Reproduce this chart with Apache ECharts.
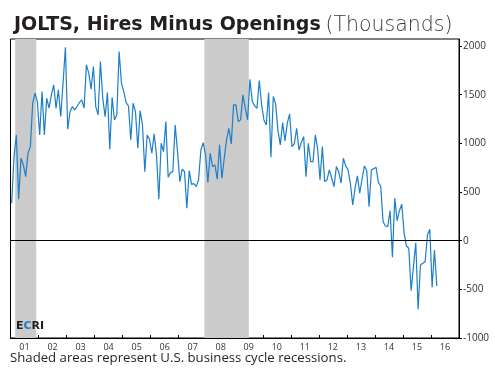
<!DOCTYPE html>
<html>
<head>
<meta charset="utf-8">
<script src="https://cdn.jsdelivr.net/npm/echarts@6/dist/echarts.min.js"></script>
<style>
  html, body { margin: 0; padding: 0; background: #fff; }
  #chart { width: 495px; height: 375px; }
</style>
</head>
<body>
<div id="chart"></div>
<script>
'use strict';

// monthly JOLTS hires minus openings, thousands, Jan 2001 .. Mar 2016
var startYear = 2001;
var hiresMinusOpenings = [
    384, 864, 1086, 426, 847, 778, 658, 898, 966, 1412, 1515, 1429,
    1086, 1532, 1086, 1464, 1361, 1498, 1601, 1361, 1549, 1275, 1618, 1988,
    1145, 1326, 1378, 1344, 1378, 1419, 1446, 1361, 1806, 1721, 1556, 1789,
    1378, 1292, 1840, 1460, 1275, 1522, 940, 1474, 1241, 1292, 1943, 1618,
    1532, 1419, 1385, 1035, 1412, 1326, 950, 1336, 1189, 709, 1086, 1042,
    898, 1097, 881, 426, 1001, 915, 1223, 652, 699, 709, 1189, 915,
    607, 734, 709, 333, 720, 578, 586, 555, 624, 932, 1007, 881,
    597, 898, 761, 778, 631, 984, 641, 847, 1035, 1155, 994, 1395,
    1395, 1223, 1241, 1498, 1361, 1241, 1659, 1429, 1385, 1361, 1645, 1395,
    1241, 1189, 1522, 857, 1481, 1405, 1131, 984, 1213, 1025, 1207, 1302,
    966, 994, 1155, 932, 1007, 1069, 658, 1001, 812, 812, 1086, 940,
    624, 966, 607, 624, 727, 641, 555, 761, 709, 590, 847, 768,
    727, 590, 367, 539, 665, 487, 631, 768, 720, 350, 727, 740,
    754, 597, 562, 195, 151, 144, 308, -171, 436, 206, 308, 374,
    76, -55, -78, -514, -267, -21, -705, -250, -233, -216, 59, 117,
    -479, -96, -466
];
var yearLabels = ['01', '02', '03', '04', '05', '06', '07', '08', '09', '10', '11', '12', '13', '14', '15', '16'];
var yTicks = [-1000, -500, 0, 500, 1000, 1500, 2000];
// recessions as [start, end] in fractional years
var recessions = [[2001 + 2 / 12, 2001 + 11 / 12], [2007 + 11 / 12, 2009 + 6 / 12]];

var seriesData = [];
hiresMinusOpenings.forEach(function(v, i) {
    seriesData.push([startYear + (i + 0.5) / 12, v]);
});

var txt = '#231f20';
var chart = echarts.init(document.getElementById('chart'), null, { renderer: 'canvas' });

chart.setOption({
    animation: false,
    backgroundColor: '#fff',
    textStyle: { fontFamily: 'Open Sans' },
    title: {
        left: 9,
        top: 10,
        text: '{b|JOLTS, Hires Minus Openings} {l|(Thousands)}',
        textStyle: {
            rich: {
                b: { fontFamily: 'DejaVu Sans', fontSize: 19, fontWeight: 'bold', color: txt },
                l: { fontFamily: 'DejaVu Sans', fontSize: 20.5, fontWeight: 200, color: '#3a3a3a' }
            }
        }
    },
    grid: {
        left: 10.5, right: 36, top: 39, bottom: 37,
        show: true, borderColor: '#000', borderWidth: 1
    },
    xAxis: [{
        type: 'value',
        min: 2001, max: 2017, interval: 1,
        axisLine: { show: true, onZero: false, lineStyle: { color: '#000', width: 1 } },
        axisTick: { show: true, inside: true, length: 3, lineStyle: { color: '#000' } },
        axisLabel: { show: false },
        splitLine: { show: false }
    }, {
        type: 'category',
        position: 'bottom',
        data: yearLabels,
        boundaryGap: true,
        axisLine: { show: false },
        axisTick: { show: false },
        axisLabel: { color: '#333', fontSize: 9, margin: 5 }
    }],
    yAxis: {
        type: 'value',
        position: 'right',
        min: -1000, max: 2072,
        axisLine: { show: true, lineStyle: { color: '#000', width: 1 } },
        axisTick: { show: true, length: 3, customValues: yTicks, lineStyle: { color: '#000' } },
        axisLabel: {
            color: '#333', fontSize: 10, margin: 4, customValues: yTicks,
            formatter: function(v) { return String(v); }
        },
        splitLine: { show: false }
    },
    graphic: [{
        type: 'text',
        left: 16, top: 321, z: 100,
        style: {
            text: '{d|E}{c|C}{d|RI}',
            rich: {
                d: { fontFamily: 'DejaVu Sans', fontSize: 11, fontWeight: 'bold', fill: txt },
                c: { fontFamily: 'DejaVu Sans', fontSize: 11, fontWeight: 'bold', fill: '#1f7cc4' }
            }
        }
    }, {
        type: 'text',
        left: 10, top: 352, z: 100,
        style: {
            text: 'Shaded areas represent U.S. business cycle recessions.',
            font: '13.2px "Open Sans"',
            fill: txt
        }
    }],
    series: [{
        type: 'line',
        xAxisIndex: 0,
        data: seriesData,
        showSymbol: false,
        lineStyle: { color: '#1b7fc9', width: 1.2 },
        markArea: {
            silent: true,
            itemStyle: { color: '#cbcbcb' },
            data: recessions.map(function(r) {
                return [{ xAxis: r[0] }, { xAxis: r[1] }];
            })
        },
        markLine: {
            silent: true,
            symbol: 'none',
            label: { show: false },
            lineStyle: { color: '#000', width: 1.2, type: 'solid' },
            data: [{ yAxis: 0 }]
        }
    }]
});
</script>
</body>
</html>
